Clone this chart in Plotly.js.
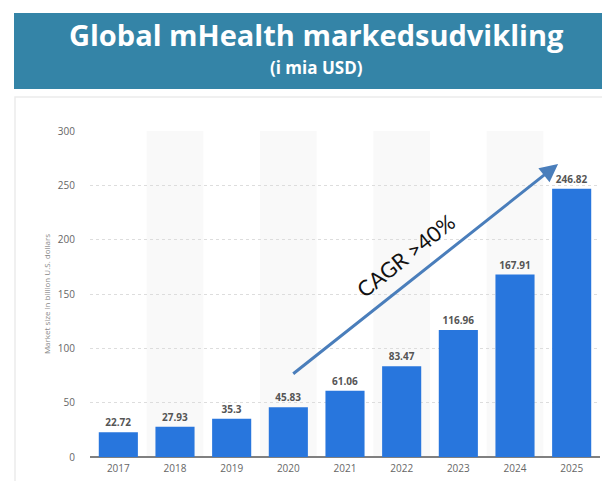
<!DOCTYPE html>
<html>
<head>
<meta charset="utf-8">
<script src="https://cdn.plot.ly/plotly-3.0.1.min.js"></script>
<style>html,body{margin:0;padding:0;background:#fff;}#chart{width:602px;height:481px;}</style>
</head>
<body>
<div id="chart"></div>
<script>
const years = ["2017","2018","2019","2020","2021","2022","2023","2024","2025"];
const marketSize = [22.72, 27.93, 35.3, 45.83, 61.06, 83.47, 116.96, 167.91, 246.82];
const valueLabels = ["22.72","27.93","35.3","45.83","61.06","83.47","116.96","167.91","246.82"];
const yTicks = [0, 50, 100, 150, 200, 250, 300];

const mainTitle = "Global mHealth markedsudvikling";
const subTitle = "(i mia USD)";
const yTitle = "Market size in billion U.S. dollars";
const cagrText = "CAGR >40%";

// plot area: x 90..600, y 131..457 (px)
const L = 90, R = 2, T = 131, B = 24, W = 602, H = 481;
const pw = W - L - R, ph = H - T - B;
const px = v => (v - L) / pw;
const py = v => (H - B - v) / ph;

const shapes = [];
// header banner
shapes.push({type:'rect', xref:'paper', yref:'paper', x0:px(14), x1:px(604), y0:py(89), y1:py(13),
  fillcolor:'#3484a7', line:{width:0}, layer:'below'});
// panel border
shapes.push({type:'rect', xref:'paper', yref:'paper', x0:px(15), x1:px(610), y0:py(490), y1:py(97),
  fillcolor:'rgba(0,0,0,0)', line:{color:'#ebebeb', width:1.5}, layer:'below'});
// alternating column bands
years.forEach((y, i) => {
  if (i % 2 === 1) {
    shapes.push({type:'rect', xref:'x', yref:'y', x0:i-0.5, x1:i+0.5, y0:0, y1:300,
      fillcolor:'#f9f9f9', line:{width:0}, layer:'below'});
  }
});

const annotations = [
  {xref:'paper', yref:'paper', x:px(316), y:py(35), text:'<b>'+mainTitle+'</b>', showarrow:false,
   font:{family:'Open Sans, sans-serif', size:29, color:'#ffffff'}, xanchor:'center', yanchor:'middle'},
  {xref:'paper', yref:'paper', x:px(316), y:py(67.5), text:'<b>'+subTitle+'</b>', showarrow:false,
   font:{family:'Open Sans, sans-serif', size:17, color:'#ffffff'}, xanchor:'center', yanchor:'middle'},
  // arrow
  {xref:'x', yref:'y', axref:'x', ayref:'y', x:7.76, y:269.6, ax:3.06, ay:75.5, text:'',
   showarrow:true, arrowhead:2, arrowsize:1.2, arrowwidth:3, arrowcolor:'#4a7ebb'},
  {xref:'x', yref:'y', x:5.07, y:185, text:cagrText, showarrow:false, textangle:-38.5,
   font:{family:'Lato, sans-serif', size:21.5, color:'#111111'}, xanchor:'center', yanchor:'middle'}
];

const trace = {
  type:'bar', x:years, y:marketSize, text:valueLabels, textposition:'outside',
  texttemplate:'<b>%{text}</b>', cliponaxis:false,
  textfont:{family:'Open Sans, sans-serif', size:10, color:'#555555'},
  marker:{color:'#2876dd', line:{width:0}}, hoverinfo:'none'
};

const layout = {
  width:W, height:H, margin:{l:L, r:R, t:T, b:B},
  paper_bgcolor:'#ffffff', plot_bgcolor:'rgba(0,0,0,0)',
  showlegend:false, bargap:0.31,
  font:{family:'Open Sans, sans-serif'},
  xaxis:{type:'category', showgrid:false, zeroline:false, showline:false, ticks:'',
    ticklabelstandoff:4, tickfont:{size:10, color:'#666666'}, fixedrange:true},
  yaxis:{range:[0,300], tickvals:yTicks, showgrid:true, gridcolor:'#dddddd', griddash:'dot', gridwidth:1,
    zeroline:true, zerolinecolor:'#808080', zerolinewidth:2, showline:false, ticks:'',
    ticklabelstandoff:14, tickfont:{size:10, color:'#666666'},
    title:{text:yTitle, font:{size:8, color:'#888888'}, standoff:6}},
  shapes:shapes, annotations:annotations
};

Plotly.newPlot('chart', [trace], layout, {displayModeBar:false, staticPlot:true});
</script>
</body>
</html>
